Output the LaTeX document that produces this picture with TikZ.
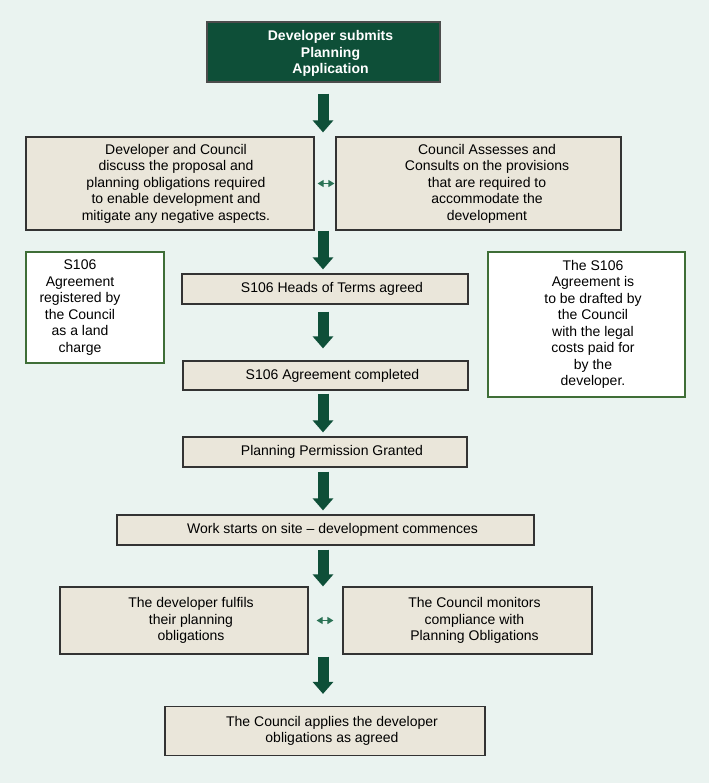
\documentclass[tikz,border=0pt]{standalone}
\usepackage{fontspec}
\setmainfont{Liberation Sans}
\usepackage{tikz}
\usetikzlibrary{arrows.meta}

\definecolor{bg}{HTML}{EAF3F0}
\definecolor{beige}{HTML}{EAE6DA}
\definecolor{darkgreen}{HTML}{0E4F38}
\definecolor{midgreen}{HTML}{2A7255}
\definecolor{edgegreen}{HTML}{3F6E37}

\tikzset{
  nudge/.store in=\nudgeamount,
  box/.style={draw=black!80, line width=1.2pt, fill=beige, inner xsep=0pt, inner ysep=0pt,
    align=flush center, font=\fontsize{14}{16.5}\selectfont, nudge=14pt,
    execute at begin node={\advance\leftskip\nudgeamount}},
  headbox/.style={box, fill=darkgreen, draw=black!70, text=white,
    font=\fontsize{14}{16.5}\selectfont\bfseries},
  note/.style={box, draw=edgegreen, line width=1.6pt, fill=white},
  flow/.style={draw=darkgreen, line width=11pt, -{Triangle[length=12pt,width=20pt]}},
  pair/.style={draw=midgreen, line width=1.2pt,
    {Triangle[length=6pt,width=7pt]}-{Triangle[length=6pt,width=7pt]}}
}

\begin{document}
\begin{tikzpicture}[x=1pt,y=-1pt]
  \useasboundingbox[fill=bg] (0,0) rectangle (709,783);
  \coordinate (spine) at (323,0);

  \node[headbox, text width=233pt, minimum height=60pt] (submit) at (323.5,52)
    {\rule{0pt}{13pt}Developer submits\\Planning\\Application};
  \node[box, text width=288pt, minimum height=93pt, nudge=12pt] (discuss) at (170,183.5)
    {Developer and Council\\discuss the proposal and\\planning obligations required\\to enable development and\\mitigate any negative aspects.};
  \node[box, text width=285pt, minimum height=93pt, nudge=17pt] (assess) at (478.5,183.5)
    {Council Assesses and\\Consults on the provisions\\that are required to\\accommodate the\\development};
  \node[box, text width=286pt, minimum height=30pt] (heads) at (325,289)
    {S106 Heads of Terms agreed};
  \node[box, text width=285pt, minimum height=29pt] (complete) at (325.5,375.5)
    {S106 Agreement completed};
  \node[box, text width=284pt, minimum height=30pt] (permit) at (325,452)
    {Planning Permission Granted};
  \node[box, text width=417pt, minimum height=30pt] (work) at (325.5,530)
    {Work starts on site – development commences};
  \node[box, text width=248pt, minimum height=67pt] (fulfil) at (184,620.5)
    {The developer fulfils\\their planning\\obligations};
  \node[box, text width=249pt, minimum height=67pt] (monitor) at (467.5,620.5)
    {The Council monitors\\compliance with\\Planning Obligations};
  \node[box, text width=320pt, minimum height=49pt] (apply) at (325,731)
    {The Council applies the developer\\obligations as agreed};

  \node[note, text width=138pt, minimum height=111pt, nudge=-30pt] (landcharge) at (95,307.5)
    {S106\\Agreement\\registered by\\the Council\\as a land\\charge};
  \node[note, text width=197pt, minimum height=145pt, nudge=13pt] (drafting) at (586.5,324.5)
    {The S106\\Agreement is\\to be drafted by\\the Council\\with the legal\\costs paid for\\by the\\developer.};

  \draw[flow, shorten <=11pt, shorten >=4pt] (submit.south -| spine) -- (discuss.north -| spine);
  \draw[flow, shorten <=0pt, shorten >=4pt] (discuss.south -| spine) -- (heads.north -| spine);
  \draw[flow, shorten <=7pt, shorten >=12pt] (heads.south -| spine) -- (complete.north -| spine);
  \draw[flow, shorten <=3pt, shorten >=4pt] (complete.south -| spine) -- (permit.north -| spine);
  \draw[flow, shorten <=4pt, shorten >=4pt] (permit.south -| spine) -- (work.north -| spine);
  \draw[flow, shorten <=4pt, shorten >=0pt] (work.south -| spine) -- (fulfil.north -| spine);
  \draw[flow, shorten <=2pt, shorten >=12pt] (fulfil.south -| spine) -- (apply.north -| spine);

  \draw[pair, shorten <=3pt, shorten >=1pt] (discuss.east) -- (assess.west);
  \draw[pair, shorten <=8pt, shorten >=9pt] (fulfil.east) -- (monitor.west);
\end{tikzpicture}
\end{document}
